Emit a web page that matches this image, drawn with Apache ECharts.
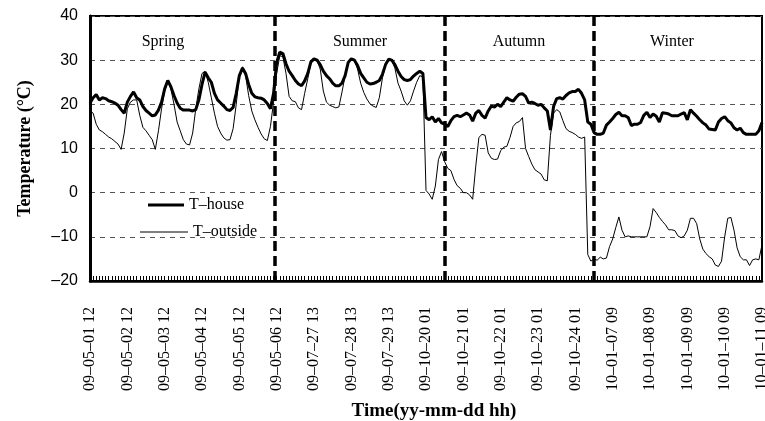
<!DOCTYPE html>
<html>
<head>
<meta charset="utf-8">
<script src="https://cdn.jsdelivr.net/npm/echarts@6/dist/echarts.min.js"></script>
<style>
  html, body { margin: 0; padding: 0; background: #fff; }
  #chart { width: 765px; height: 421px; }
</style>
</head>
<body>
<div id="chart"></div>
<script>
  // one point every 2 hours, 12 per labelled day
  const stepsPerDay = 12;
  const tickLabels = [
    '09–05–01 12', '09–05–02 12', '09–05–03 12', '09–05–04 12', '09–05–05 12', '09–05–06 12',
    '09–07–27 13', '09–07–28 13', '09–07–29 13',
    '09–10–20 01', '09–10–21 01', '09–10–22 01', '09–10–23 01', '09–10–24 01',
    '10–01–07 09', '10–01–08 09', '10–01–09 09', '10–01–10 09', '10–01–11 09'
  ];
  const seasons = ['Spring', 'Summer', 'Autumn', 'Winter'];
  // season borders, in 2-hour steps from the first point
  const seasonBreaks = [59.5, 114.1, 161.8];

  const houseT = [
    20.3, 21.5, 22.2, 21.0, 21.5, 21.3, 20.8, 20.6, 20.3, 19.8,
    18.8, 18.0, 20.5, 21.8, 22.8, 21.5, 21.0, 19.5, 18.6, 18.0,
    17.4, 17.6, 18.7, 20.5, 23.5, 25.4, 24.0, 22.0, 20.3, 19.1,
    18.7, 18.7, 18.7, 18.5, 18.8, 21.0, 24.5, 27.3, 26.0, 25.0,
    22.5, 21.0, 20.3, 19.6, 18.8, 18.6, 19.3, 22.5, 26.5, 28.2,
    27.0, 24.5, 22.5, 21.7, 21.5, 21.4, 21.0, 20.2, 19.0, 22.5,
    29.5, 31.8, 31.5, 29.2, 27.5, 26.5, 25.4, 24.6, 24.2, 25.3,
    27.0, 29.6, 30.3, 30.0, 29.0, 27.5, 26.5, 25.8, 24.8, 24.2,
    24.2, 24.8, 26.5, 29.5, 30.3, 30.0, 28.8, 27.0, 26.0, 25.0,
    24.6, 24.7, 25.0, 25.4, 26.8, 29.0, 30.2, 30.0, 29.0, 27.5,
    26.3, 25.6, 25.4, 25.6, 26.4, 27.0, 27.5, 27.0, 17.0, 16.5,
    17.2, 16.0, 16.8, 15.8, 15.5, 15.0, 16.3, 17.2, 17.5, 17.2,
    17.6, 18.0, 17.6, 16.2, 18.0, 18.6, 17.5, 16.9, 18.5, 19.6,
    19.4, 20.0, 19.5, 20.5, 21.5, 21.0, 20.7, 21.6, 22.3, 22.4,
    21.8, 20.3, 20.5, 20.2, 19.8, 20.0, 19.2, 18.5, 14.2, 19.5,
    21.3, 21.5, 21.2, 22.0, 22.6, 22.9, 22.9, 23.4, 22.5, 21.0,
    16.0, 15.5, 13.6, 13.2, 13.2, 13.5, 15.3, 16.0, 16.8, 17.7,
    18.2, 17.4, 17.4, 17.0, 15.2, 15.5, 15.5, 15.9, 17.5, 18.2,
    17.0, 17.8, 17.3, 16.0, 18.1, 18.0, 17.8, 17.4, 17.4, 17.4,
    17.8, 18.1, 16.5, 18.8, 18.0, 17.3, 16.5, 15.8, 15.3, 14.4,
    14.3, 14.2, 16.0, 16.8, 17.2, 16.3, 15.8, 14.7, 14.2, 14.6,
    13.6, 13.2, 13.2, 13.2, 13.2, 14.0, 15.9
  ];

  const outsideT = [
    18.5, 18.0, 15.5, 14.2, 13.8, 13.2, 12.6, 12.2, 11.6, 11.0,
    9.8, 13.5, 19.0, 20.5, 21.0, 21.0, 17.5, 14.8, 14.0, 13.0,
    12.0, 9.8, 14.0, 19.0, 23.0, 25.3, 23.5, 20.0, 16.0, 14.0,
    12.0, 11.0, 10.8, 13.5, 19.0, 23.5, 27.0, 27.5, 25.0, 21.5,
    18.0, 15.0, 13.5, 12.4, 11.9, 12.0, 14.5, 20.0, 26.5, 28.5,
    26.5, 22.0, 18.5, 16.5, 14.8, 13.3, 12.2, 11.8, 15.0, 20.5,
    27.0, 31.0, 30.8, 27.0, 21.8, 20.8, 20.6, 19.2, 18.8, 22.5,
    25.8, 29.3, 30.0, 29.8, 28.0, 23.0, 20.5, 19.8, 19.5, 19.2,
    19.4, 22.8, 26.5, 29.4, 30.3, 30.0, 28.0, 24.8, 22.7, 21.2,
    20.1, 19.6, 19.3, 21.5, 26.0, 28.8, 30.3, 29.9, 28.2, 24.8,
    23.0, 20.8, 19.8, 20.8, 23.0, 25.0, 26.5, 26.2, 0.5, -0.3,
    -1.5, 1.5, 7.5, 9.3, 7.0, 5.5, 5.0, 3.0, 1.6, 1.0,
    0.0, 0.0, -0.5, -1.5, 6.0, 12.5, 13.2, 13.0, 9.0, 7.8,
    7.5, 7.6, 9.5, 10.3, 10.5, 12.5, 15.0, 15.8, 16.1, 17.0,
    10.0, 8.2, 6.5, 5.2, 4.7, 4.2, 2.9, 2.7, 13.0, 18.0,
    18.8, 18.3, 16.3, 14.5, 13.9, 13.6, 13.2, 12.6, 12.3, 12.6,
    -14.0, -15.5, -15.0, -15.3, -14.6, -15.0, -14.8, -12.2, -10.5, -7.9,
    -5.5, -8.5, -10.0, -9.8, -10.0, -10.0, -10.0, -10.0, -10.0, -10.0,
    -7.7, -3.6, -4.5, -5.6, -6.5, -7.3, -8.4, -8.4, -8.6, -9.8,
    -10.2, -9.8, -8.5, -5.8, -5.8, -7.0, -10.5, -12.8, -13.8, -14.5,
    -15.0, -16.4, -16.7, -15.5, -10.0, -5.8, -5.6, -8.5, -12.5, -14.5,
    -15.2, -15.2, -16.5, -15.2, -15.0, -15.2, -11.8
  ];

  const serif = '"Liberation Serif", "Times New Roman", serif';
  const sans = '"Liberation Sans", Arial, sans-serif';
  const lastStep = (tickLabels.length - 1) * stepsPerDay;

  const chart = echarts.init(document.getElementById('chart'), null, { renderer: 'canvas' });

  const seasonX = [163, 360, 519, 672];

  chart.setOption({
    animation: false,
    backgroundColor: '#fff',
    grid: {
      left: 90, right: 3, top: 16, bottom: 140,
      outerBoundsMode: 'none',
      containLabel: false,
      show: true, borderColor: '#000', borderWidth: 2
    },
    legend: [{
      data: [{ name: 'T–house', icon: 'rect' }],
      left: 143, top: 192,
      itemWidth: 36, itemHeight: 3,
      textStyle: { fontFamily: serif, fontSize: 16, color: '#000' }
    }, {
      data: [{ name: 'T–outside', icon: 'rect' }],
      left: 135, top: 219,
      itemWidth: 48, itemHeight: 1,
      textStyle: { fontFamily: serif, fontSize: 16, color: '#000' }
    }],
    xAxis: {
      type: 'value',
      min: 0, max: lastStep, interval: stepsPerDay,
      name: 'Time(yy-mm-dd hh)',
      nameLocation: 'middle', nameGap: 121,
      nameTextStyle: { fontFamily: serif, fontSize: 19, fontWeight: 'bold', color: '#000', padding: [0, 0, 0, 16] },
      axisLine: { onZero: false, lineStyle: { color: '#000', width: 2.5 } },
      axisTick: { inside: true, length: 5, lineStyle: { color: '#000', width: 1 } },
      minorTick: { show: true, splitNumber: stepsPerDay, length: 5, lineStyle: { color: '#000', width: 1 } },
      splitLine: { show: false },
      axisLabel: {
        rotate: 90, margin: 26,
        fontFamily: serif, fontSize: 16, color: '#000',
        formatter: v => tickLabels[Math.round(v / stepsPerDay)] || ''
      }
    },
    yAxis: {
      type: 'value',
      min: -20, max: 40, interval: 10,
      name: 'Temperature (°C)',
      nameLocation: 'middle', nameGap: 56,
      nameTextStyle: { fontFamily: serif, fontSize: 18, fontWeight: 'bold', color: '#000' },
      axisLine: { show: true, lineStyle: { color: '#000', width: 3 } },
      axisTick: { show: false },
      axisLabel: {
        margin: 12, fontFamily: sans, fontSize: 16, color: '#000',
        formatter: v => String(v).replace('-', '–')
      },
      splitLine: { show: true, lineStyle: { color: '#555', width: 1, type: [5, 5] } }
    },
    graphic: seasons.map((s, k) => ({
      type: 'text',
      x: seasonX[k], y: 42,
      style: {
        text: s, fontFamily: serif, fontSize: 16, fill: '#000',
        textAlign: 'center', textVerticalAlign: 'middle'
      }
    })),
    series: [{
      name: 'T–outside',
      type: 'line',
      data: outsideT.map((v, i) => [i, v]),
      symbol: 'none',
      lineStyle: { color: '#000', width: 1 },
      itemStyle: { color: '#000' },
      z: 2
    }, {
      name: 'T–house',
      type: 'line',
      data: houseT.map((v, i) => [i, v]),
      symbol: 'none',
      lineStyle: { color: '#000', width: 3 },
      itemStyle: { color: '#000' },
      z: 3,
      markLine: {
        silent: true,
        symbol: 'none',
        label: { show: false },
        lineStyle: { color: '#000', width: 3.5, type: [10, 5] },
        data: seasonBreaks.map(b => ({ xAxis: b }))
      }
    }]
  });
</script>
</body>
</html>
